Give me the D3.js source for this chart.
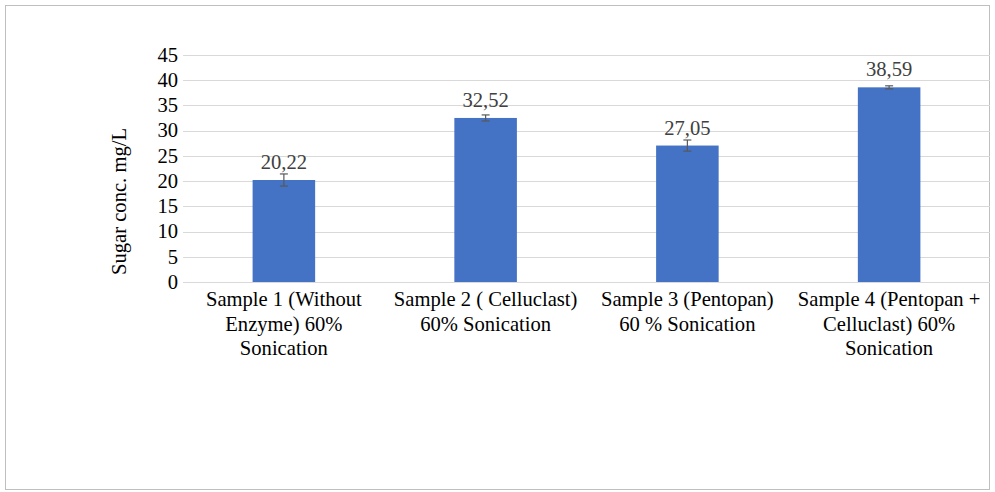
<!DOCTYPE html>
<html>
  <head>
    <meta charset="utf-8" />
    <script src="https://d3js.org/d3.v7.min.js"></script>
    <style>
        body { margin: 0; background: #fff; }
    </style>
  </head>
  <body>
    <svg id="chart" width="995" height="492" font-family="'Liberation Serif', 'Times New Roman', serif"></svg>
    <script>
        // data
        var categories = [
            ["Sample 1 (Without", "Enzyme) 60%", "Sonication"],
            ["Sample 2 ( Celluclast)", "60% Sonication"],
            ["Sample 3 (Pentopan)", "60 % Sonication"],
            ["Sample 4 (Pentopan +", "Celluclast) 60%", "Sonication"]
        ];
        var values = [20.22, 32.52, 27.05, 38.59];
        var errors = [1.2, 0.6, 1.1, 0.3];
        var labels = ["20,22", "32,52", "27,05", "38,59"];
        var yTicks = [0, 5, 10, 15, 20, 25, 30, 35, 40, 45];

        var svg = d3.select("#chart");
        var fs = "20.6px";

        // outer frame
        svg.append("rect")
            .attr("x", 5.5).attr("y", 5.5)
            .attr("width", 984).attr("height", 484)
            .attr("fill", "none").attr("stroke", "#bfbfbf");

        var plotLeft = 183, plotRight = 990, plotTop = 55, plotBottom = 282;

        var x = d3.scaleBand()
            .domain(d3.range(values.length))
            .range([plotLeft, plotRight])
            .paddingInner(0.69).paddingOuter(0.345);

        var y = d3.scaleLinear().domain([0, 45]).range([plotBottom, plotTop]);

        // gridlines
        svg.append("g").selectAll("line").data(yTicks).enter().append("line")
            .attr("x1", plotLeft).attr("x2", plotRight)
            .attr("y1", function(d){ return Math.round(y(d)) + 0.5; })
            .attr("y2", function(d){ return Math.round(y(d)) + 0.5; })
            .attr("stroke", "#d9d9d9");

        // y tick labels
        svg.append("g").selectAll("text").data(yTicks).enter().append("text")
            .attr("x", 178)
            .attr("y", function(d){ return y(d); })
            .attr("dy", "0.33em")
            .attr("text-anchor", "end")
            .attr("font-size", fs)
            .text(function(d){ return d; });

        // y axis title
        svg.append("text")
            .attr("transform", "translate(126," + ((plotTop + plotBottom) / 2 + 33) + ") rotate(-90)")
            .attr("text-anchor", "middle")
            .attr("font-size", fs)
            .text("Sugar conc. mg/L");

        // bars
        svg.append("g").selectAll("rect").data(values).enter().append("rect")
            .attr("x", function(d, i){ return x(i); })
            .attr("y", function(d){ return y(d); })
            .attr("width", x.bandwidth())
            .attr("height", function(d){ return y(0) - y(d); })
            .attr("fill", "#4472c4");

        // error bars
        var eb = svg.append("g").attr("stroke", "#595959").attr("stroke-width", 1.2);
        values.forEach(function(v, i){
            var cx = x(i) + x.bandwidth() / 2;
            eb.append("line").attr("x1", cx).attr("x2", cx)
                .attr("y1", y(v + errors[i])).attr("y2", y(v - errors[i]));
            [v + errors[i], v - errors[i]].forEach(function(e){
                eb.append("line").attr("x1", cx - 4).attr("x2", cx + 4)
                    .attr("y1", y(e)).attr("y2", y(e));
            });
        });

        // value labels
        svg.append("g").selectAll("text").data(values).enter().append("text")
            .attr("x", function(d, i){ return x(i) + x.bandwidth() / 2; })
            .attr("y", function(d){ return y(d) - 11; })
            .attr("text-anchor", "middle")
            .attr("font-size", fs)
            .attr("fill", "#404040")
            .text(function(d, i){ return labels[i]; });

        // category labels
        var cat = svg.append("g").selectAll("text").data(categories).enter().append("text")
            .attr("text-anchor", "middle")
            .attr("font-size", fs)
            .attr("x", function(d, i){ return x(i) + x.bandwidth() / 2; })
            .attr("y", 306);
        cat.selectAll("tspan").data(function(d){ return d; }).enter().append("tspan")
            .attr("x", function(){ return d3.select(this.parentNode).attr("x"); })
            .attr("dy", function(d, j){ return j === 0 ? 0 : 24.5; })
            .text(function(d){ return d; });
    </script>
  </body>
</html>
